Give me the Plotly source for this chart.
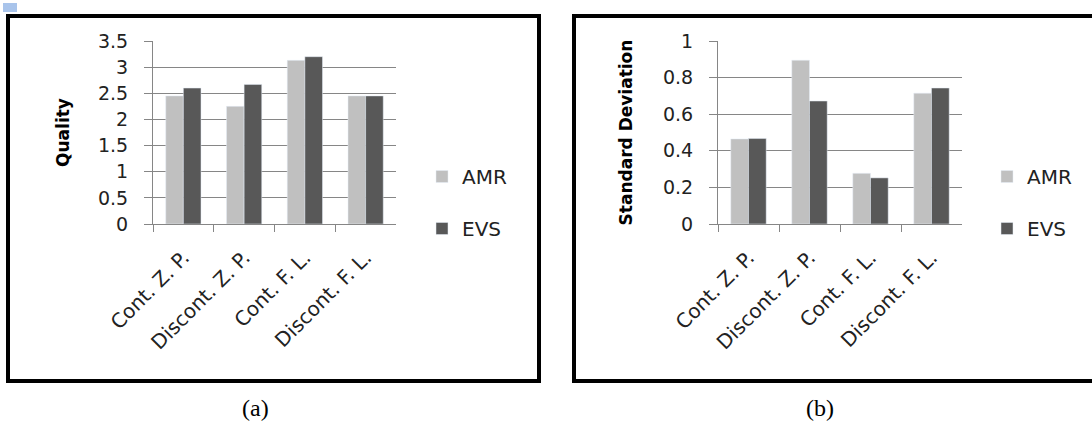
import plotly.graph_objects as go

categories = ["Cont. Z. P.", "Discont. Z. P.", "Cont. F. L.", "Discont. F. L."]
quality_amr = [2.45, 2.25, 3.13, 2.45]
quality_evs = [2.6, 2.67, 3.2, 2.45]
std_amr = [0.465, 0.895, 0.277, 0.715]
std_evs = [0.467, 0.672, 0.252, 0.743]
quality_ticks = [0, 0.5, 1, 1.5, 2, 2.5, 3, 3.5]
std_ticks = [0, 0.2, 0.4, 0.6, 0.8, 1]

W, H = 1092, 429
AMR_COLOR = "#c0c0c0"
EVS_COLOR = "#585858"
GRID = "#868686"
FONT = "DejaVu Sans"


def px(x):
    return x / W


def py(y):
    return 1 - y / H


fig = go.Figure()

fig.add_trace(go.Bar(x=categories, y=quality_amr, name="AMR", marker_color=AMR_COLOR,
                     xaxis="x", yaxis="y", legend="legend", legendgroup="a1"))
fig.add_trace(go.Bar(x=categories, y=quality_evs, name="EVS", marker_color=EVS_COLOR,
                     xaxis="x", yaxis="y", legend="legend", legendgroup="a2"))
fig.add_trace(go.Bar(x=categories, y=std_amr, name="AMR", marker_color=AMR_COLOR,
                     xaxis="x2", yaxis="y2", legend="legend2", legendgroup="b1"))
fig.add_trace(go.Bar(x=categories, y=std_evs, name="EVS", marker_color=EVS_COLOR,
                     xaxis="x2", yaxis="y2", legend="legend2", legendgroup="b2"))

xcommon = dict(type="category", tickson="boundaries", ticks="outside", ticklen=7,
               tickcolor=GRID, showline=True, linecolor=GRID, linewidth=1,
               showgrid=False, tickangle=-45, automargin=False, ticklabelstandoff=13,
               tickfont=dict(family=FONT, size=20, color="#222222"))
ycommon = dict(ticks="outside", ticklen=8, tickcolor=GRID, showline=True,
               linecolor=GRID, linewidth=1, showgrid=True, gridcolor=GRID,
               gridwidth=1, zeroline=False, automargin=False, ticklabelstandoff=12,
               tickfont=dict(family=FONT, size=19, color="#222222"))

fig.update_layout(
    width=W, height=H, autosize=False,
    margin=dict(l=0, r=0, t=0, b=0),
    paper_bgcolor="white", plot_bgcolor="white",
    barmode="group", bargap=0.42, bargroupgap=0,
    xaxis=dict(domain=[px(153), px(396)], anchor="y", **xcommon),
    yaxis=dict(domain=[py(224), py(41)], anchor="x", range=[0, 3.5],
               tickvals=quality_ticks, ticktext=[f"{v:g}" for v in quality_ticks],
               title=dict(text="<b>Quality</b>", standoff=24,
                          font=dict(family=FONT, size=17, color="black")),
               **ycommon),
    xaxis2=dict(domain=[px(718), px(962)], anchor="y2", **xcommon),
    yaxis2=dict(domain=[py(224), py(41)], anchor="x2", range=[0, 1],
                tickvals=std_ticks, ticktext=[f"{v:g}" for v in std_ticks],
                title=dict(text="<b>Standard Deviation</b>", standoff=26,
                           font=dict(family=FONT, size=17, color="black")),
                **ycommon),
    legend=dict(x=px(422), y=py(157), xanchor="left", yanchor="top",
                font=dict(family=FONT, size=20, color="#222222"),
                tracegroupgap=23, bgcolor="rgba(0,0,0,0)", itemwidth=30),
    legend2=dict(x=px(987), y=py(157), xanchor="left", yanchor="top",
                 font=dict(family=FONT, size=20, color="#222222"),
                 tracegroupgap=23, bgcolor="rgba(0,0,0,0)", itemwidth=30),
    shapes=[
        dict(type="rect", xref="paper", yref="paper", x0=px(8), x1=px(539),
             y0=py(381), y1=py(16), line=dict(color="black", width=4)),
        dict(type="rect", xref="paper", yref="paper", x0=px(574), x1=px(1100),
             y0=py(381), y1=py(16), line=dict(color="black", width=4)),
        dict(type="rect", xref="paper", yref="paper", x0=px(3), x1=px(17),
             y0=py(12), y1=py(3), line=dict(width=0), fillcolor="#a9c4eb"),
    ],
    annotations=[
        dict(text="(a)", x=px(255), y=py(408), xref="paper", yref="paper",
             xanchor="center", yanchor="middle", showarrow=False,
             font=dict(family="Liberation Serif", size=24, color="black")),
        dict(text="(b)", x=px(820), y=py(408), xref="paper", yref="paper",
             xanchor="center", yanchor="middle", showarrow=False,
             font=dict(family="Liberation Serif", size=24, color="black")),
    ],
)

fig.write_html("out.html", config={"displayModeBar": False},
               post_script="document.body.style.margin='0';document.body.style.overflow='hidden';")
